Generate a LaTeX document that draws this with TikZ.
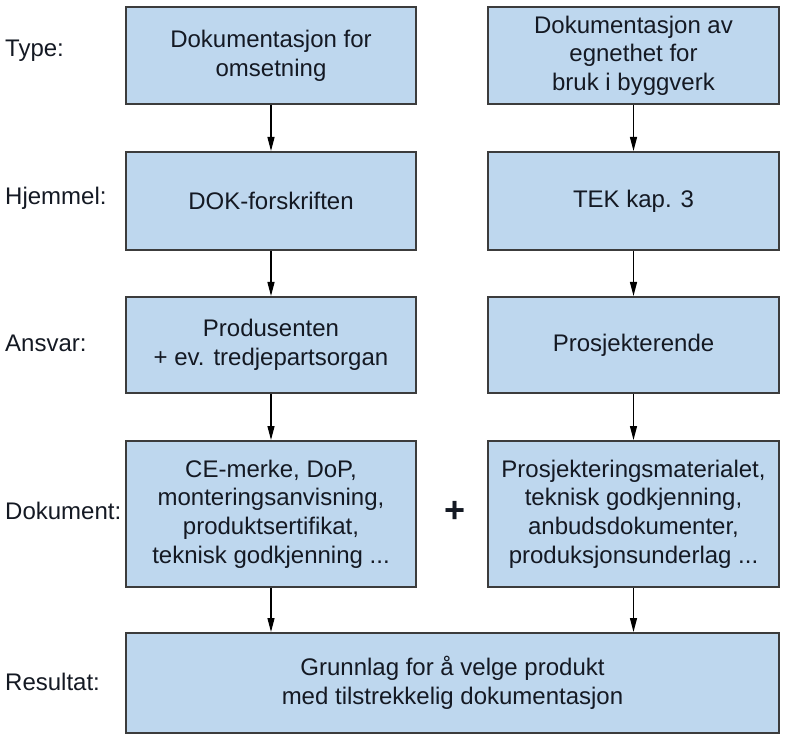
\documentclass[tikz,border=0pt]{standalone}
\usepackage{fontspec}
\setmainfont{Liberation Sans}
\usetikzlibrary{arrows.meta}
\definecolor{boxfill}{RGB}{190,215,238}
\definecolor{boxline}{RGB}{60,60,60}
\definecolor{txt}{RGB}{20,25,35}
\begin{document}
\begin{tikzpicture}[x=1pt,y=-1pt,
  box/.style={draw=boxline,line width=2pt,fill=boxfill,rectangle,inner sep=0pt,
    align=center,text=txt,font=\fontsize{24}{28.7}\selectfont},
  lbl/.style={anchor=west,inner sep=0pt,text=txt,font=\fontsize{24}{28.7}\selectfont},
  arr/.style={draw=black,line width=1.3pt,-{Triangle[length=14pt,width=7pt]}}]
\useasboundingbox (0,0) rectangle (787,743);
% left column
\node[box,minimum width=290pt,minimum height=97pt] (l1) at (271,55.5) {Dokumentasjon for\\omsetning};
\node[box,minimum width=290pt,minimum height=98pt] (l2) at (271,201) {DOK-forskriften};
\node[box,minimum width=290pt,minimum height=96pt] (l3) at (271,345) {Produsenten\\+ ev. tredjepartsorgan};
\node[box,minimum width=290pt,minimum height=146pt] (l4) at (271,514) {CE-merke, DoP,\\monteringsanvisning,\\produktsertifikat,\\teknisk godkjenning ...};
% right column
\node[box,minimum width=291pt,minimum height=97pt] (r1) at (633.5,55.5) {Dokumentasjon av\\egnethet for\\bruk i byggverk};
\node[box,minimum width=291pt,minimum height=98pt] (r2) at (633.5,201) {TEK kap. 3};
\node[box,minimum width=291pt,minimum height=96pt] (r3) at (633.5,345) {Prosjekterende};
\node[box,minimum width=291pt,minimum height=146pt] (r4) at (633.5,514) {Prosjekteringsmaterialet,\\teknisk godkjenning,\\anbudsdokumenter,\\produksjonsunderlag ...};
% bottom
\node[box,minimum width=653pt,minimum height=100pt] (res) at (452.5,683) {Grunnlag for å velge produkt\\med tilstrekkelig dokumentasjon};
% plus
\node[inner sep=0pt,text=txt,font=\bfseries\fontsize{36}{36}\selectfont] (plus) at (455,512) {+};
% labels
\node[lbl] (t1) at (5,51) {Type:};
\node[lbl] (t2) at (5,198) {Hjemmel:};
\node[lbl] (t3) at (5,343) {Ansvar:};
\node[lbl] (t4) at (5,511) {Dokument:};
\node[lbl] (t5) at (5,682) {Resultat:};
% arrows
\draw[arr] (l1.south) -- (l2.north);
\draw[arr] (l2.south) -- (l3.north);
\draw[arr] (l3.south) -- (l4.north);
\draw[arr] (l4.south) -- (l4.south |- res.north);
\draw[arr] (r1.south) -- (r2.north);
\draw[arr] (r2.south) -- (r3.north);
\draw[arr] (r3.south) -- (r4.north);
\draw[arr] (r4.south) -- (r4.south |- res.north);
\end{tikzpicture}
\end{document}
